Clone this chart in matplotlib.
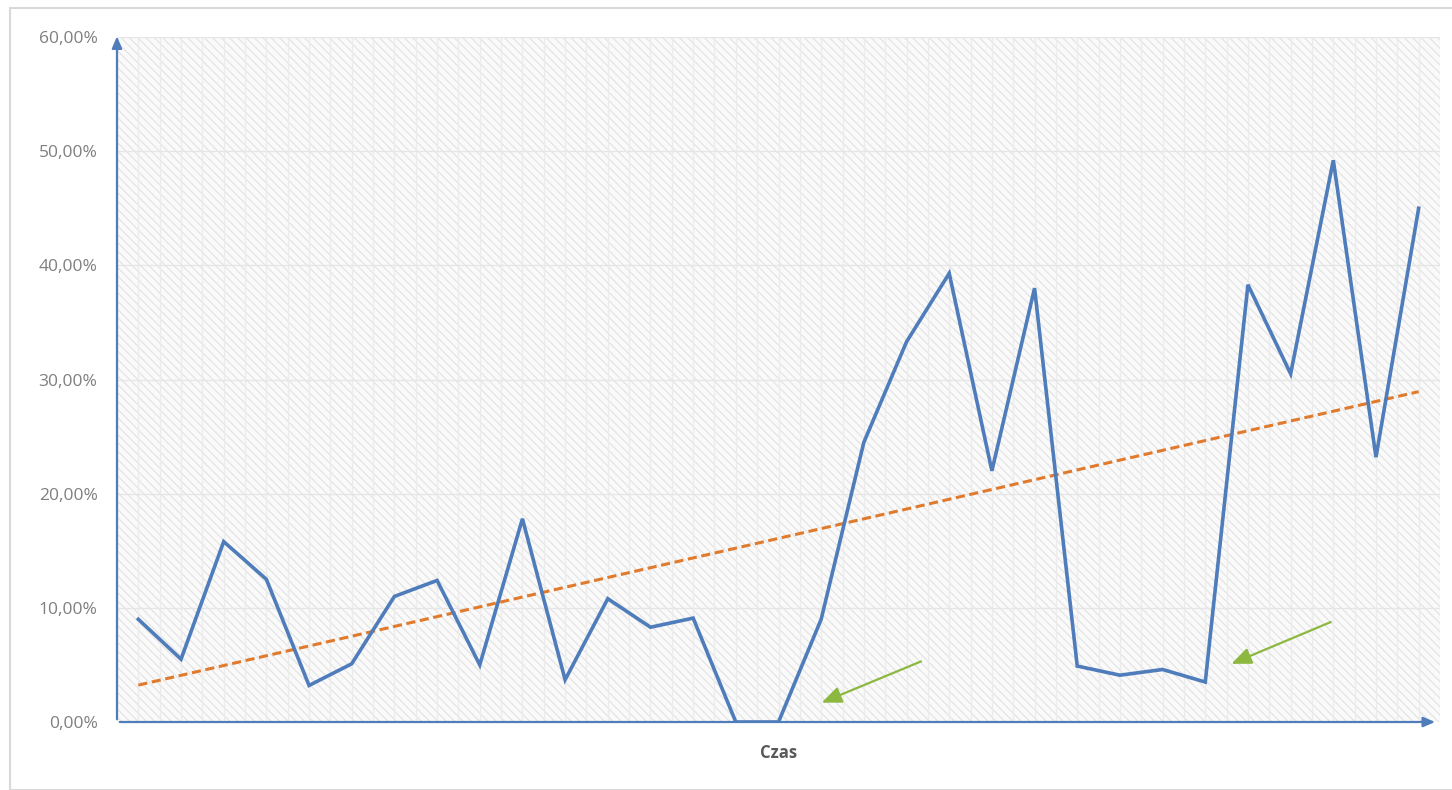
import numpy as np
import matplotlib.pyplot as plt
from matplotlib.patches import Rectangle

# values (percent)
values = [9.0, 5.5, 15.8, 12.5, 3.2, 5.1, 11.0, 12.4, 5.0, 17.8,
          3.7, 10.8, 8.3, 9.1, 0.0, 0.0, 9.0, 24.5, 33.3, 39.3,
          22.0, 38.0, 4.9, 4.1, 4.6, 3.5, 38.3, 30.5, 49.2, 23.2, 45.0]
y_ticks = [0, 10, 20, 30, 40, 50, 60]
y_labels = ["0,00%", "10,00%", "20,00%", "30,00%", "40,00%", "50,00%", "60,00%"]
x_title = "Czas"
# green pointer arrows (tail, head) in data units
pointers = [((18.4, 5.4), (15.95, 1.6)), ((28.0, 8.85), (25.55, 5.0))]

x = np.arange(len(values))
slope, icpt = np.polyfit(x, values, 1)
trend = slope * x + icpt

plt.rcParams['font.family'] = ['Open Sans', 'DejaVu Sans']

fig = plt.figure(figsize=(14.52, 7.9), dpi=100)
fig.patches.append(Rectangle((10 / 1452, 0), 1, 1 - 8 / 790, transform=fig.transFigure,
                             fill=False, edgecolor='#d9d9d9', linewidth=1.5))
ax = fig.add_axes([117 / 1452, 1 - 722 / 790, (1440 - 117) / 1452, (722 - 37) / 790])
ax.set_xlim(-0.5, len(values) - 0.5)
ax.set_ylim(0, 60)

# hatched plot background
plt.rcParams['hatch.linewidth'] = 0.9
ax.add_patch(Rectangle((0, 0), 1, 1, transform=ax.transAxes, facecolor='#fafafa',
                       edgecolor='#e4e4e4', hatch='\\\\\\\\', linewidth=0, zorder=0))
for gx in np.arange(-0.5, len(values), 0.5):
    ax.axvline(gx, color='#ececec', linewidth=1.0, zorder=0.5)
for gy in y_ticks[1:]:
    ax.axhline(gy, color='#e6e6e6', linewidth=1.0, zorder=0.5)

ax.plot(x, values, color='#4f7cba', linewidth=2.6, solid_joinstyle='miter', zorder=3)
ax.plot(x, trend, color='#e07b2e', linewidth=2.2, linestyle=(0, (3, 1.5)), zorder=2)

for (tx, ty), (hx, hy) in pointers:
    ax.annotate('', xy=(hx, hy), xytext=(tx, ty),
                arrowprops=dict(arrowstyle='-|>,head_length=1.2,head_width=0.5',
                                color='#8cb840', linewidth=1.6), zorder=4)

for s in ax.spines.values():
    s.set_visible(False)
# axis arrows
ax.annotate('', xy=(-0.5, 60.3), xytext=(-0.5, 0), xycoords='data',
            arrowprops=dict(arrowstyle='-|>,head_length=0.7,head_width=0.3',
                            color='#4f7cba', linewidth=1.6), annotation_clip=False)
ax.annotate('', xy=(30.45, 0), xytext=(-0.5, 0), xycoords='data',
            arrowprops=dict(arrowstyle='-|>,head_length=0.7,head_width=0.3',
                            color='#4f7cba', linewidth=1.6), annotation_clip=False)

ax.set_yticks(y_ticks)
ax.set_yticklabels(y_labels, color='#7f7f7f', fontsize=12.5)
ax.tick_params(axis='y', length=0, pad=14)
ax.set_xticks([])
ax.set_xlabel(x_title, fontsize=12, fontweight='bold', color='#595959', labelpad=16)

fig.savefig('out.png', dpi=100)
